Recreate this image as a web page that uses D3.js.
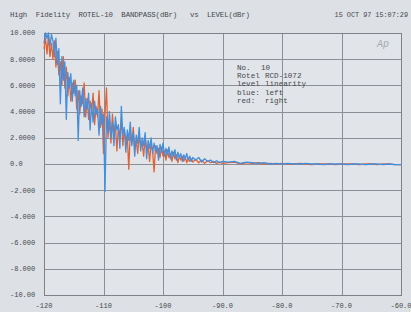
<!DOCTYPE html>
<html>
<head>
<meta charset="utf-8">
<script src="https://cdn.jsdelivr.net/npm/d3@7"></script>
<style>
	body { margin: 0; background: #dde0e4; }
	svg { display: block; }
	.grid line, .grid path { stroke: #8c9096; stroke-width: 1; shape-rendering: crispEdges; }
	text { font-family: "Liberation Mono", "DejaVu Sans Mono", monospace; fill: #45484d; }
</style>
</head>
<body>
<div id="chart"></div>
<script>
// level (dBr): 0.25 dB steps to -95, 0.5 dB to -90, then 1 dB
var levels = [-120, -119.75, -119.5, -119.25, -119, -118.75, -118.5, -118.25, -118, -117.75,
	-117.5, -117.25, -117, -116.75, -116.5, -116.25, -116, -115.75, -115.5, -115.25,
	-115, -114.75, -114.5, -114.25, -114, -113.75, -113.5, -113.25, -113, -112.75,
	-112.5, -112.25, -112, -111.75, -111.5, -111.25, -111, -110.75, -110.5, -110.25,
	-110, -109.75, -109.5, -109.25, -109, -108.75, -108.5, -108.25, -108, -107.75,
	-107.5, -107.25, -107, -106.75, -106.5, -106.25, -106, -105.75, -105.5, -105.25,
	-105, -104.75, -104.5, -104.25, -104, -103.75, -103.5, -103.25, -103, -102.75,
	-102.5, -102.25, -102, -101.75, -101.5, -101.25, -101, -100.75, -100.5, -100.25,
	-100, -99.75, -99.5, -99.25, -99, -98.75, -98.5, -98.25, -98, -97.75,
	-97.5, -97.25, -97, -96.75, -96.5, -96.25, -96, -95.75, -95.5, -95.25,
	-95,
	-94.5, -94, -93.5, -93, -92.5, -92, -91.5, -91, -90.5, -90,
	-89, -88, -87, -86, -85, -84, -83, -82, -81, -80,
	-79, -78, -77, -76, -75, -74, -73, -72, -71, -70,
	-69, -68, -67, -66, -65, -64, -63, -62, -61, -60];

// blue: left channel
var leftDev = [9.2, 10.0, 9.6, 10.0, 9.0, 9.9, 9.4, 8.2, 9.6, 7.6,
	8.8, 4.6, 8.2, 6.4, 7.8, 3.4, 7.0, 5.8, 6.9, 4.8,
	6.4, 5.2, 6.0, 1.8, 5.6, 4.4, 5.8, 3.6, 5.0, 4.2,
	5.4, 2.6, 4.6, 3.2, 4.8, 3.8, 4.2, 2.2, 4.4, 3.0,
	3.8, -2.1, 3.6, 2.4, 4.0, 2.0, 3.2, 1.4, 3.6, 2.6,
	3.0, 1.2, 4.4, 2.2, 2.8, 0.9, 2.6, 1.8, 3.2, 1.4,
	2.4, 0.6, 2.2, 1.6, 2.8, 1.0, 2.0, 1.4, 2.4, 0.4,
	1.8, 1.2, 2.0, 0.8, 1.6, 1.0, 1.4, 0.3, 1.5, 0.9,
	1.6, 0.6, 1.2, 0.7, 1.3, 0.4, 1.0, 0.6, 1.1, 0.3,
	0.9, 0.5, 0.8, 0.2, 0.7, 0.4, 0.8, 0.3, 0.6, 0.2,
	0.5,
	0.3, 0.5, 0.15, 0.4, 0.2, 0.3, 0.1, 0.25, 0.1, 0.2,
	0.15, 0.2, 0.05, 0.15, 0.1, 0.05, 0.1, 0.0, 0.05, 0.0,
	0.05, 0.0, 0.0, 0.05, 0.0, 0.0, -0.05, 0.0, 0.0, 0.0,
	-0.05, 0.0, 0.0, -0.05, 0.0, 0.0, -0.05, 0.0, -0.05, -0.05];

// red: right channel
var rightDev = [8.8, 9.6, 8.4, 9.8, 8.2, 9.2, 8.0, 9.4, 7.4, 8.6,
	6.8, 7.8, 6.0, 8.2, 5.8, 7.4, 5.2, 6.6, 4.8, 6.2,
	5.4, 6.4, 4.2, 5.6, 3.8, 5.2, 4.6, 6.2, 3.6, 5.0,
	3.4, 4.8, 4.0, 5.4, 3.0, 4.4, 3.6, 5.6, 2.8, 4.2,
	0.8, 3.8, 5.8, 2.0, 3.4, 1.6, 3.8, 2.4, 3.0, 1.0,
	2.8, 2.0, 3.4, 1.4, 2.6, 1.8, 2.2, -0.4, 2.4, 1.6,
	2.8, 1.2, 1.8, 0.8, 2.2, 1.4, 1.6, 0.6, 2.0, 1.2,
	1.4, 0.2, 1.6, 1.0, -0.6, 1.4, 0.8, 1.2, 0.5, 1.3,
	0.6, 1.0, 0.3, 1.1, 0.5, 0.8, 0.2, 0.9, 0.4, 0.7,
	0.1, 0.6, 0.3, 0.6, 0.2, 0.5, 0.1, 0.45, 0.2, 0.4,
	0.15,
	0.35, 0.1, 0.3, 0.05, 0.25, 0.1, 0.2, 0.05, 0.15, 0.05,
	0.1, 0.15, 0.0, 0.1, 0.05, 0.1, 0.0, 0.05, 0.0, 0.05,
	0.0, 0.0, 0.05, 0.0, -0.05, 0.0, 0.0, 0.0, -0.05, 0.0,
	0.0, 0.0, -0.05, 0.0, 0.0, -0.05, 0.0, 0.0, -0.05, -0.05];

var xTicks = [-120, -110, -100, -90, -80, -70, -60];
var xTickLabels = ["-120", "-110", "-100", "-90.0", "-80.0", "-70.0", "-60.0"];
var yTicks = [10, 8, 6, 4, 2, 0, -2, -4, -6, -8, -10];
var yTickLabels = ["10.000", "8.0000", "6.0000", "4.0000", "2.0000", "0.0", "-2.000", "-4.000", "-6.000", "-8.000", "-10.00"];

var legendKeys = ["No.", "Rotel", "level", "blue:", "red:"];
var legendValues = ["10", "RCD-1072", "linearity", "left", "right"];

var W = 411, H = 312;
var margin = { top: 33, right: 10, bottom: 17, left: 44 };
var width = W - margin.left - margin.right,
	height = H - margin.top - margin.bottom;

var svg = d3.select("#chart").append("svg")
	.attr("width", W)
	.attr("height", H);

svg.append("rect")
	.attr("width", W)
	.attr("height", H)
	.attr("fill", "#dde0e4");

var x = d3.scaleLinear().domain([-120, -60]).range([0, width]),
	y = d3.scaleLinear().domain([-10, 10]).range([height, 0]);

var g = svg.append("g")
	.attr("transform", "translate(" + margin.left + "," + margin.top + ")");

g.append("rect")
	.attr("width", width)
	.attr("height", height)
	.attr("fill", "#e1e4e8");

// grid
g.append("g")
	.attr("class", "grid")
	.call(d3.axisLeft(y).tickValues(yTicks).tickSize(-width).tickFormat(""))
	.call(function (s) { s.select(".domain").remove(); });

g.append("g")
	.attr("class", "grid")
	.attr("transform", "translate(0," + height + ")")
	.call(d3.axisBottom(x).tickValues(xTicks).tickSize(-height).tickFormat(""))
	.call(function (s) { s.select(".domain").remove(); });

g.append("rect")
	.attr("width", width)
	.attr("height", height)
	.attr("fill", "none")
	.attr("stroke", "#7e8288")
	.attr("stroke-width", 1)
	.attr("shape-rendering", "crispEdges");

// axis labels
svg.append("g").selectAll("text")
	.data(yTicks)
	.enter().append("text")
	.attr("x", 10)
	.attr("y", function (d) { return margin.top + y(d); })
	.attr("dy", "0.35em")
	.attr("font-size", 7)
	.text(function (d, i) { return yTickLabels[i]; });

svg.append("g").selectAll("text")
	.data(xTicks)
	.enter().append("text")
	.attr("x", function (d) { return margin.left + x(d); })
	.attr("y", H - 4)
	.attr("text-anchor", "middle")
	.attr("font-size", 7)
	.text(function (d, i) { return xTickLabels[i]; });

// title line
svg.append("text")
	.attr("x", 10)
	.attr("y", 17)
	.attr("font-size", 7.4)
	.attr("textLength", 240)
	.attr("lengthAdjust", "spacing")
	.style("white-space", "pre")
	.text("High  Fidelity  ROTEL-10  BANDPASS(dBr)   vs  LEVEL(dBr)");

svg.append("text")
	.attr("x", 408)
	.attr("y", 17)
	.attr("text-anchor", "end")
	.attr("font-size", 6.8)
	.text("15 OCT 97 15:07:29");

// Ap logo
g.append("text")
	.attr("x", width - 12)
	.attr("y", 14)
	.attr("text-anchor", "end")
	.attr("font-family", "DejaVu Sans, sans-serif")
	.attr("font-style", "italic")
	.attr("font-size", 10)
	.style("fill", "#a6aaaf")
	.text("Ap");

// curves
var line = d3.line()
	.x(function (d, i) { return x(levels[i]); })
	.y(function (d) { return y(d); });

g.append("path")
	.datum(rightDev)
	.attr("fill", "none")
	.attr("stroke", "#e8602e")
	.attr("stroke-width", 1.3)
	.attr("stroke-linejoin", "round")
	.attr("d", line);

g.append("path")
	.datum(leftDev)
	.attr("fill", "none")
	.attr("stroke", "#3f8fe2")
	.attr("stroke-width", 1.3)
	.attr("stroke-linejoin", "round")
	.attr("d", line);

// legend block
var legend = svg.append("g").attr("transform", "translate(237,67)");
legend.selectAll("text.k")
	.data(legendKeys)
	.enter().append("text")
	.attr("class", "k")
	.attr("x", 0)
	.attr("y", function (d, i) { return i * 8.3; })
	.attr("dy", "0.35em")
	.attr("font-size", 7.6)
	.text(function (d) { return d; });
legend.selectAll("text.v")
	.data(legendValues)
	.enter().append("text")
	.attr("class", "v")
	.attr("x", function (d, i) { return i === 0 ? 24 : 28; })
	.attr("y", function (d, i) { return i * 8.3; })
	.attr("dy", "0.35em")
	.attr("font-size", 7.6)
	.text(function (d) { return d; });
</script>
</body>
</html>
